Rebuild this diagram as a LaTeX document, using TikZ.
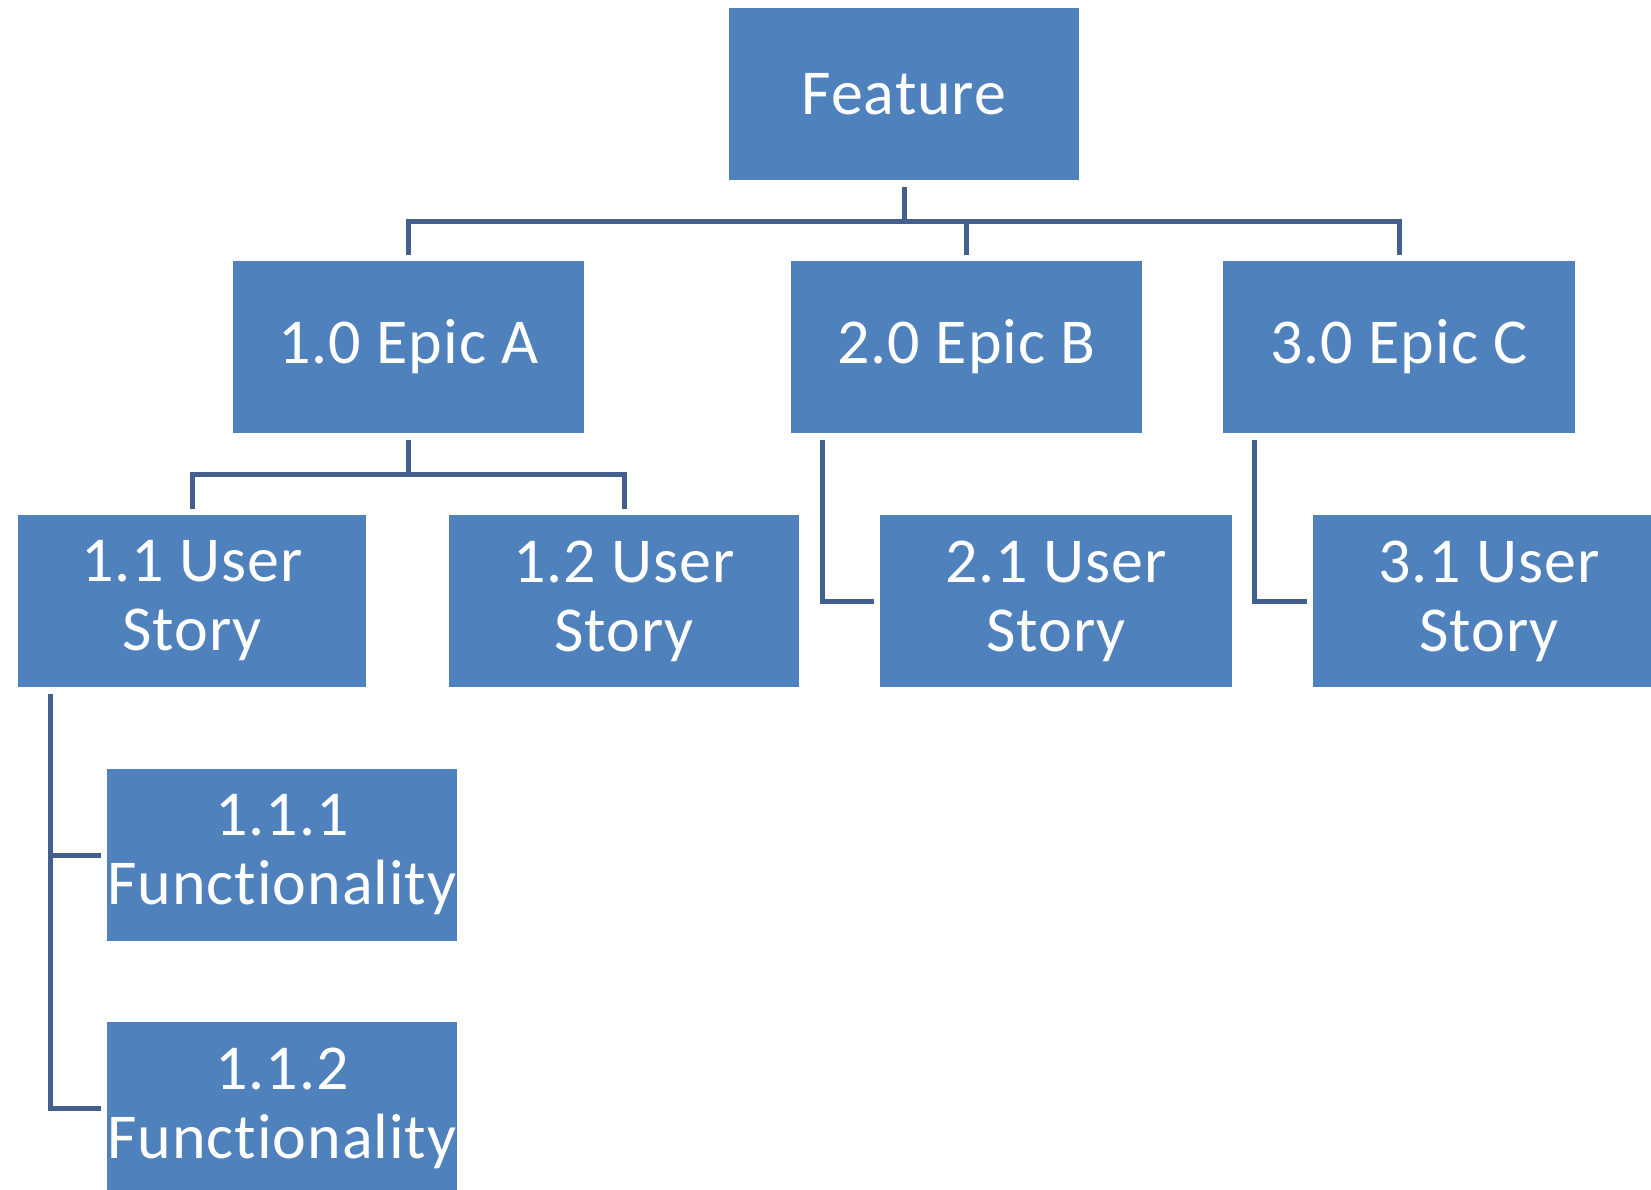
\documentclass[tikz,border=0pt]{standalone}
\usepackage{fontspec}
\setmainfont[Ligatures=NoCommon, LetterSpace=1.5]{Carlito}
\definecolor{boxblue}{HTML}{4F81BD}
\definecolor{linkblue}{HTML}{435F8E}
\tikzset{
  item/.style={rectangle, fill=boxblue, draw=none, text=white, align=center,
    inner sep=0pt, minimum height=172pt, font=\fontsize{64}{69}\selectfont},
  conn/.style={draw=linkblue, line width=5pt, shorten <=7pt, shorten >=6pt}
}
\begin{document}
\begin{tikzpicture}[x=1pt, y=-1pt]
\useasboundingbox[fill=white] (0,0) rectangle (1651,1189);

% top level
\node[item, minimum width=350pt] (feat) at (904,94) {Feature};

% epics
\node[item, minimum width=351pt] (ea) at (408.5,347) {1.0 Epic A};
\node[item, minimum width=351pt] (eb) at (966.5,347) {2.0 Epic B};
\node[item, minimum width=352pt] (ec) at (1399,347) {3.0 Epic C};

% user stories
\node[item, minimum width=348pt] (s11) at (192,601) {1.1 User\\Story};
\node[item, minimum width=350pt] (s12) at (624,601) {1.2 User\\Story};
\node[item, minimum width=352pt] (s21) at (1056,601) {2.1 User\\Story};
\node[item, minimum width=352pt] (s31) at (1489,601) {3.1 User\\Story};

% functionalities
\node[item, minimum width=350pt] (f111) at (282,855) {1.1.1\\Functionality};
\node[item, minimum width=350pt] (f112) at (282,1108) {1.1.2\\Functionality};

% feature to epics
\draw[conn] (feat.south) -- ++(0,41) -| (ea.north);
\draw[conn] (feat.south) -- ++(0,41) -| (eb.north);
\draw[conn] (feat.south) -- ++(0,41) -| (ec.north);

% epic A to its stories
\draw[conn] (ea.south) -- ++(0,41) -| (s11.north);
\draw[conn] (ea.south) -- ++(0,41) -| (s12.north);

% epics B and C, side links
\draw[conn] ([xshift=32pt]eb.south west) |- (s21.west);
\draw[conn] ([xshift=32pt]ec.south west) |- (s31.west);

% story 1.1 to its functionalities
\draw[conn] ([xshift=33pt]s11.south west) |- (f111.west);
\draw[conn] ([xshift=33pt]s11.south west) |- (f112.west);
\end{tikzpicture}
\end{document}
